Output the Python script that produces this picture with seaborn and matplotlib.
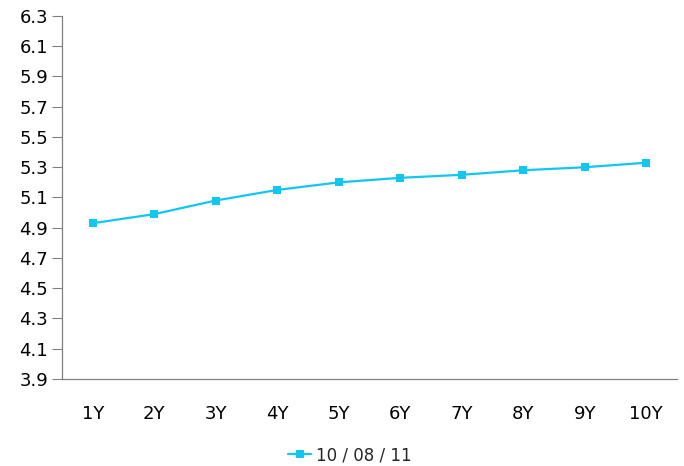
import seaborn as sns
import matplotlib.pyplot as plt
import pandas as pd

tenors = ['1Y', '2Y', '3Y', '4Y', '5Y', '6Y', '7Y', '8Y', '9Y', '10Y']
rates = [4.93, 4.99, 5.08, 5.15, 5.20, 5.23, 5.25, 5.28, 5.30, 5.33]
series_name = '10 / 08 / 11'

data = pd.DataFrame({'Tenor': tenors, 'Rate': rates, 'Series': series_name})

sns.set_style('white')
plt.rcParams['font.family'] = ['DejaVu Sans']

fig = plt.figure(figsize=(6.84, 4.66), dpi=100)
ax = fig.add_axes([0.0906, 0.1867, 0.8992, 0.779])

sns.lineplot(data=data, x='Tenor', y='Rate', hue='Series', palette=['#12C6F2'],
             marker='s', markersize=6, markeredgewidth=0, linewidth=1.6,
             sort=False, ax=ax)

ax.set_xlim(-0.5, 9.5)
ax.set_ylim(3.9, 6.3)
ax.set_yticks([3.9 + 0.2 * i for i in range(13)])
ax.set_yticklabels([f'{3.9 + 0.2 * i:.1f}' for i in range(13)], fontsize=13)
ax.tick_params(axis='x', labelsize=13, length=0, pad=19, labelcolor='black')
ax.tick_params(axis='y', length=7, width=0.8, color='#808080', direction='out',
               pad=3, left=True, labelcolor='black')
ax.set_xlabel('')
ax.set_ylabel('')
for s in ['top', 'right']:
    ax.spines[s].set_visible(False)
for s in ['left', 'bottom']:
    ax.spines[s].set_color('#808080')
    ax.spines[s].set_linewidth(0.9)

handles, labels = ax.get_legend_handles_labels()
ax.get_legend().remove()
fig.legend(handles, labels, loc='center', bbox_to_anchor=(350 / 684, 1 - 455 / 466),
           frameon=False, fontsize=12, handlelength=1.4, handletextpad=0.3)

fig.savefig('out.png', dpi=100)
